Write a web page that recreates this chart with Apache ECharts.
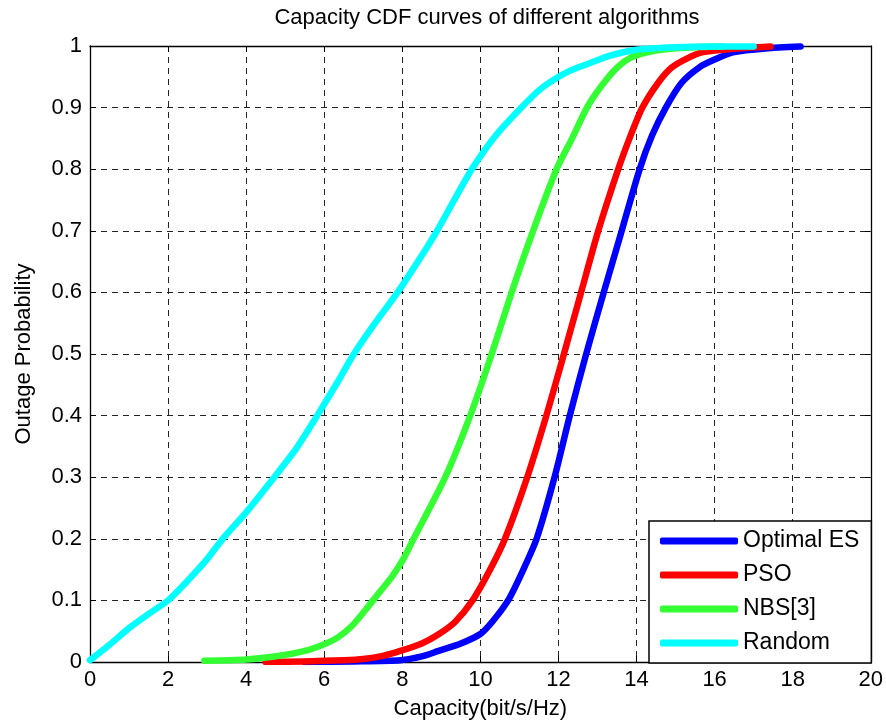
<!DOCTYPE html>
<html>
<head>
<meta charset="utf-8">
<script src="https://cdn.jsdelivr.net/npm/echarts@6/dist/echarts.min.js"></script>
<style>
html,body{margin:0;padding:0;background:#fff;}
#chart{width:886px;height:725px;}
</style>
</head>
<body>
<div id="chart"></div>
<script>
// ---- data ----
var titleText = 'Capacity CDF curves of different algorithms';
var xAxisName = 'Capacity(bit/s/Hz)';
var yAxisName = 'Outage Probability';
var seriesNames = ['Optimal ES', 'PSO', 'NBS[3]', 'Random'];
var seriesColors = ['#0000ff', '#ff0000', '#33ff33', '#00ffff'];

// [capacity, probability]
var optimalES = [[5.5,0],[6.7,0.001],[7.95,0.003],[8.5,0.009],[8.93,0.018],[9.5,0.03],[9.99,0.045],[10.3,0.065],[10.71,0.1],[11.1,0.15],[11.44,0.2],[11.9,0.3],[12.29,0.4],[12.71,0.5],[13.16,0.6],[13.62,0.7],[14.08,0.8],[14.4,0.855],[14.75,0.9],[15.15,0.94],[15.6,0.965],[16.0,0.978],[16.5,0.99],[17.3,0.996],[18.2,0.999]];
var pso = [[4.5,0],[5.5,0.001],[6.5,0.003],[7,0.005],[7.5,0.01],[7.95,0.018],[8.5,0.03],[8.93,0.045],[9.35,0.065],[9.8,0.1],[10.25,0.15],[10.63,0.2],[11.2,0.3],[11.69,0.4],[12.14,0.5],[12.58,0.6],[13.02,0.7],[13.53,0.8],[13.85,0.855],[14.15,0.9],[14.55,0.94],[14.9,0.965],[15.3,0.98],[15.7,0.99],[16.4,0.995],[17.43,0.999]];
var nbs = [[2.93,0.002],[4,0.004],[4.85,0.01],[5.5,0.018],[6,0.029],[6.35,0.04],[6.7,0.058],[7.05,0.084],[7.4,0.112],[7.75,0.14],[8.05,0.17],[8.29,0.2],[9.1,0.3],[9.74,0.4],[10.29,0.5],[10.8,0.6],[11.35,0.7],[11.95,0.8],[12.35,0.85],[12.73,0.9],[13.1,0.935],[13.5,0.965],[13.85,0.981],[14.3,0.99],[14.8,0.995],[15.5,0.998],[16.2,0.999]];
var randomAlg = [[0,0.003],[0.5,0.028],[1,0.055],[1.5,0.078],[2,0.1],[2.5,0.132],[3,0.167],[3.4,0.2],[4,0.243],[4.72,0.3],[5.3,0.348],[5.82,0.4],[6.3,0.45],[6.76,0.5],[7.3,0.55],[7.88,0.6],[8.4,0.65],[8.89,0.7],[9.33,0.75],[9.78,0.8],[10.4,0.855],[11.05,0.9],[11.5,0.928],[11.9,0.946],[12.3,0.96],[12.8,0.972],[13.3,0.984],[14,0.994],[15,0.998],[16,0.999],[17,0.999]];
var seriesData = [optimalES, pso, nbs, randomAlg];

var xMin = 0, xMax = 20, xStep = 2;
var yMin = 0, yMax = 1, yStep = 0.1;

var FONT = '"Liberation Sans", Arial, Helvetica, sans-serif';
var chart = echarts.init(document.getElementById('chart'), null, {renderer: 'canvas'});

var dashed = {show: true, lineStyle: {color: '#222', width: 1, type: [6, 5]}};
var tickIn = {show: true, inside: true, length: 6, lineStyle: {color: '#000', width: 1}};
var axLine = {show: true, onZero: false, lineStyle: {color: '#000', width: 1.3}};

var series = seriesNames.map(function (n, i) {
  return {
    name: n,
    type: 'line',
    xAxisIndex: 0,
    yAxisIndex: 0,
    data: seriesData[i],
    showSymbol: false,
    smooth: 0.25,
    lineStyle: {color: seriesColors[i], width: 6.5, cap: 'round', join: 'round'},
    itemStyle: {color: seriesColors[i]},
    emphasis: {disabled: true},
    z: 3 + i
  };
});

chart.setOption({
  animation: false,
  backgroundColor: '#fff',
  textStyle: {fontFamily: FONT},
  title: {
    text: titleText,
    left: 482,
    textAlign: 'center',
    top: 2,
    textStyle: {fontFamily: FONT, fontSize: 22, fontWeight: 'normal', color: '#000'}
  },
  grid: {left: 90, right: 12, top: 46, bottom: 62, containLabel: false},
  legend: {
    orient: 'vertical',
    left: 649,
    top: 521,
    width: 225,
    padding: [8, 12, 8, 11],
    itemGap: 10,
    itemWidth: 78,
    itemHeight: 7,
    icon: 'roundRect',
    backgroundColor: '#fff',
    borderColor: '#000',
    borderWidth: 1.5,
    borderRadius: 0,
    selectedMode: false,
    data: seriesNames.map(function (n, i) { return {name: n, icon: 'roundRect', itemStyle: {color: seriesColors[i]}}; }),
    textStyle: {fontFamily: FONT, fontSize: 23, color: '#000', lineHeight: 24, padding: [0, 0, 0, 0]}
  },
  xAxis: [{
    type: 'value', min: xMin, max: xMax, interval: xStep, position: 'bottom',
    name: xAxisName, nameLocation: 'middle', nameGap: 36,
    nameTextStyle: {fontFamily: FONT, fontSize: 22, color: '#000'},
    axisLine: axLine, axisTick: tickIn,
    axisLabel: {fontFamily: FONT, fontSize: 22, color: '#000', margin: 7},
    splitLine: dashed
  }, {
    type: 'value', min: xMin, max: xMax, interval: xStep, position: 'top',
    axisLine: axLine, axisTick: tickIn, axisLabel: {show: false}, splitLine: {show: false}
  }],
  yAxis: [{
    type: 'value', min: yMin, max: yMax, interval: yStep, position: 'left',
    name: yAxisName, nameLocation: 'middle', nameGap: 55, nameRotate: 90,
    nameTextStyle: {fontFamily: FONT, fontSize: 22, color: '#000'},
    axisLine: axLine, axisTick: tickIn,
    axisLabel: {fontFamily: FONT, fontSize: 22, color: '#000', margin: 8},
    splitLine: dashed
  }, {
    type: 'value', min: yMin, max: yMax, interval: yStep, position: 'right',
    axisLine: axLine, axisTick: tickIn, axisLabel: {show: false}, splitLine: {show: false}
  }],
  series: series
});
</script>
</body>
</html>
